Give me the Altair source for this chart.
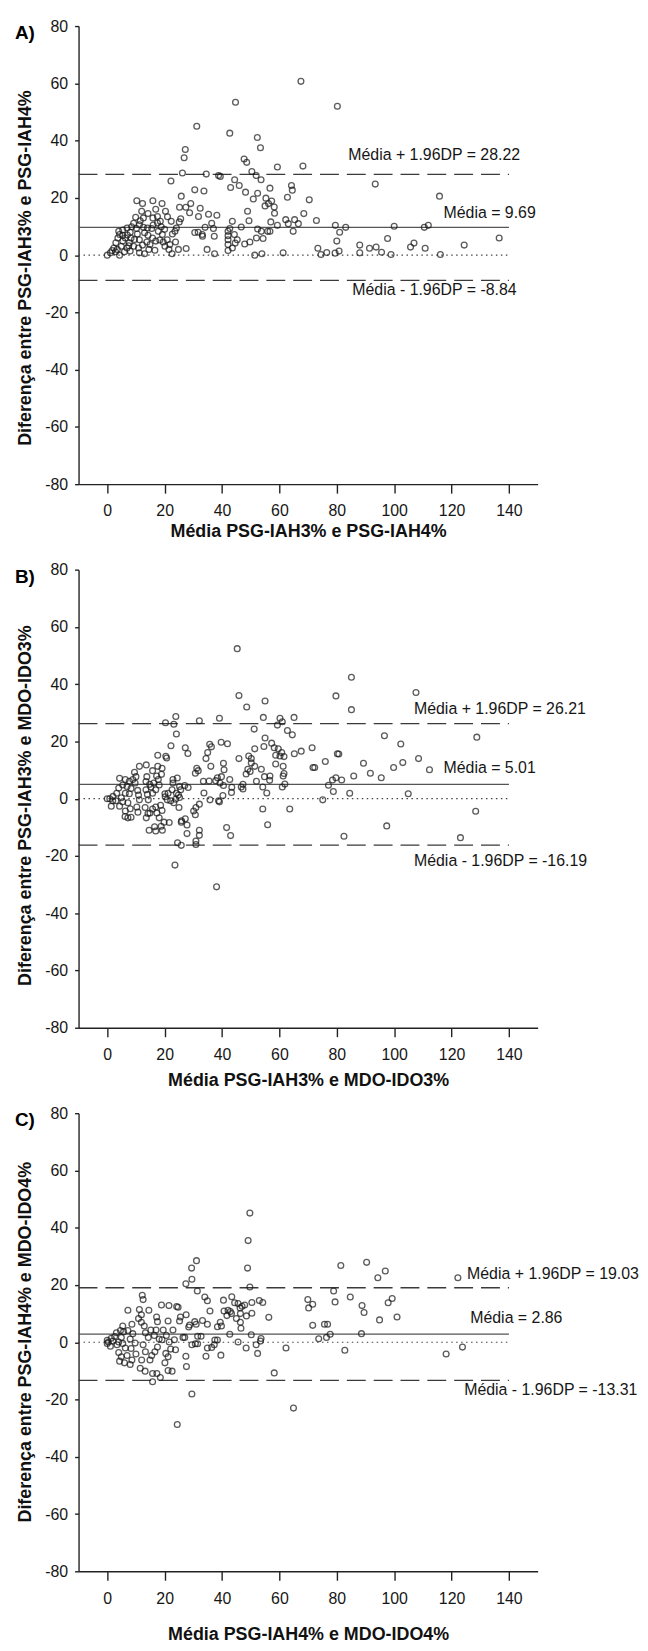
import altair as alt
import pandas as pd

# ---------------- data ----------------
a_x = [67.5, 80.2, 44.7, 31.2, 42.7, 52.3, 53.4, 27.2, 26.8, 47.7, 48.6, 68.2, 59.3, 26.2, 34.5, 38.8, 39.4, 50.4, 51.9, 44.4,
       53.6, 22.2, 46.0, 64.2, 64.5, 43.0, 93.4, 30.5, 33.7, 48.2, 52.4, 56.7, 62.8, 70.4, 115.8, 25.8, 50.9, 55.3, 57.3, 56.2,
       58.2, 55.0, 58.3, 29.1, 27.4, 25.2, 28.7, 32.4, 31.8, 35.3, 38.2, 48.9, 68.5, 72.9, 62.2, 63.1, 66.6, 65.3, 43.6, 49.4,
       36.4, 59.3, 57.0, 79.5, 81.0, 83.1, 100.0, 110.5, 111.9, 136.6, 124.4, 97.7, 88.0, 91.4, 93.7, 95.6, 98.9, 105.7, 106.9, 110.8,
       116.1, 88.0, 80.0, 80.8, 79.4, 76.5, 74.5, 73.4, 61.3, 53.9, 51.4, 52.0, 54.3, 49.7, 47.9, 45.3, 44.3, 44.6, 42.1, 43.6,
       42.1, 42.1, 42.1, 42.1, 42.7, 46.7, 52.4, 53.7, 55.9, 56.7, 64.8, 37.4, 34.8, 37.3, 37.0, 34.1, 33.1, 31.7, 30.5, 33.2,
       27.5, 24.8, 22.6, 25.6, 25.1, 24.1, 23.6, 23.8, 22.7, 20.9, 21.8, 21.5, 20.3, 21.0, 22.3, 19.1, 15.9, 10.3, 12.3, 12.0,
       14.2, 9.9, 12.6, 15.9, 16.9, 17.5, 18.5, 18.8, 19.2, 19.5, 20.1, 16.6, 13.0, 18.3, 17.8, 15.5, 14.0, 12.6, 14.2, 13.8,
       12.3, 14.9, 11.2, 10.5, 10.2, 8.5, 8.0, 8.3, 7.7, 6.9, 8.0, 6.0, 5.4, 5.4, 5.4, 6.9, 4.0, 3.7, 3.0, 2.3,
       2.9, 1.1, 0.0, 4.3, 4.9, 9.2, 10.9, 11.2, 9.2, 16.9, 11.2, 15.8, 1.7, 4.3, 6.3, 7.0, 9.5, 13.0, 16.0, 3.5,
       7.5, 11.5, 14.5, 17.5, 20.0]
a_y = [60.7, 52.0, 53.4, 45.0, 42.6, 41.1, 37.5, 36.9, 34.0, 33.6, 32.4, 31.1, 30.8, 28.7, 28.3, 27.8, 27.5, 29.2, 27.8, 26.3,
       26.3, 25.9, 24.3, 24.3, 22.7, 23.6, 24.8, 22.8, 22.4, 22.0, 21.6, 23.4, 20.2, 19.3, 20.6, 20.6, 19.6, 19.9, 18.9, 18.0,
       16.8, 17.2, 14.6, 18.0, 16.7, 16.7, 14.8, 16.4, 13.5, 14.3, 13.9, 15.3, 14.5, 12.1, 12.4, 11.0, 11.0, 12.4, 11.8, 12.0,
       11.1, 10.4, 11.6, 10.4, 8.0, 9.7, 10.1, 9.7, 10.4, 6.0, 3.5, 5.8, 3.5, 2.4, 2.8, 1.0, 0.2, 2.8, 4.2, 2.4,
       0.2, 0.8, 4.9, 1.4, 0.7, 0.9, 0.2, 2.4, 0.8, 0.5, 0.0, 6.0, 5.8, 4.6, 3.9, 5.4, 7.2, 4.2, 1.6, 2.5,
       3.7, 5.4, 6.8, 8.3, 9.3, 9.8, 9.1, 8.3, 8.3, 8.3, 8.3, 0.5, 2.0, 6.6, 9.3, 9.7, 7.2, 8.0, 7.9, 6.6,
       2.3, 2.0, 0.5, 12.7, 11.6, 9.5, 8.3, 4.6, 7.4, 5.4, 3.7, 2.0, 15.3, 13.4, 11.8, 18.0, 19.0, 19.0, 18.0, 15.3,
       14.5, 13.2, 13.0, 13.0, 16.0, 11.2, 11.8, 9.9, 7.2, 4.6, 3.1, 1.7, 0.5, 5.3, 8.3, 9.3, 9.5, 9.7, 6.9, 4.6,
       3.5, 3.7, 5.4, 7.4, 9.3, 9.9, 8.0, 6.0, 4.3, 2.5, 1.4, 1.2, 4.9, 6.9, 8.8, 9.5, 8.3, 6.0, 4.3, 2.5,
       1.2, 0.8, 0.0, 0.0, 3.1, 3.1, 2.5, 10.6, 11.1, 4.9, 0.8, 6.0, 1.6, 7.2, 6.0, 7.0, 5.5, 7.8, 10.5, 2.0,
       3.3, 12.0, 2.0, 13.5, 9.0]

b_x = [45.3, 85.1, 107.6, 45.9, 79.7, 55.0, 85.1, 48.6, 32.1, 39.1, 23.9, 23.2, 20.3, 24.1, 54.4, 60.2, 61.0, 59.3, 65.1, 62.8,
       64.5, 51.2, 96.6, 128.8, 102.3, 39.7, 41.9, 35.7, 36.3, 35.0, 34.4, 36.1, 22.2, 17.6, 20.4, 20.7, 27.2, 28.1, 55.0, 57.3,
       58.2, 59.6, 60.8, 60.2, 61.6, 58.7, 58.7, 54.6, 51.4, 49.3, 50.2, 50.2, 51.4, 49.0, 48.4, 49.8, 52.0, 53.7, 54.8, 56.7,
       61.3, 61.3, 61.6, 61.9, 61.0, 67.6, 65.2, 71.4, 71.7, 72.3, 76.0, 80.2, 80.7, 89.3, 91.7, 95.5, 99.8, 103.0, 108.5, 112.3,
       85.9, 79.7, 78.5, 81.7, 77.1, 78.8, 84.5, 104.9, 75.1, 63.6, 128.4, 97.4, 82.5, 123.1, 55.9, 55.6, 54.2, 54.2, 56.6, 46.7,
       47.3, 47.3, 43.3, 43.4, 42.7, 39.8, 38.4, 37.8, 39.3, 40.5, 40.7, 40.5, 33.5, 35.5, 33.7, 35.8, 38.8, 39.1, 40.3, 41.6,
       43.0, 38.1, 32.1, 30.9, 30.1, 30.7, 32.1, 32.1, 30.9, 30.9, 30.7, 31.2, 31.7, 28.2, 27.0, 25.2, 25.6, 24.8, 25.2, 25.0,
       25.9, 27.2, 27.8, 25.8, 27.8, 24.5, 25.8, 23.6, 22.9, 24.4, 22.9, 22.6, 21.2, 20.2, 20.9, 20.1, 22.1, 23.2, 23.8, 24.1,
       21.6, 19.8, 18.8, 19.2, 16.9, 16.5, 14.6, 18.1, 19.1, 18.6, 16.9, 15.8, 17.3, 14.9, 13.6, 14.2, 13.2, 14.3, 14.0, 13.5,
       14.8, 13.5, 13.8, 13.6, 15.8, 17.6, 17.2, 17.8, 19.1, 18.9, 18.1, 16.9, 15.8, 16.2, 15.2, 11.2, 10.0, 9.5, 8.9, 9.7,
       10.6, 10.9, 11.2, 10.3, 10.7, 8.3, 7.2, 6.2, 6.3, 8.0, 7.2, 5.4, 4.3, 4.9, 6.3, 7.7, 8.3, 6.9, 5.4, 4.3,
       6.3, 7.7, 4.0, 3.3, 2.0, 0.9, 0.0, 1.9, 1.4, 3.0, 45.9]
b_y = [52.4, 42.4, 37.1, 36.0, 35.9, 34.1, 31.1, 32.0, 27.2, 28.1, 28.7, 26.0, 26.5, 22.6, 28.4, 28.1, 26.9, 25.7, 28.4, 23.8,
       22.3, 24.3, 22.0, 21.5, 19.1, 19.7, 19.2, 19.0, 18.1, 16.1, 14.0, 11.3, 18.5, 15.2, 14.8, 14.2, 17.8, 15.8, 21.2, 19.4,
       17.8, 17.4, 16.1, 14.9, 14.7, 15.2, 12.1, 18.2, 17.4, 14.9, 14.0, 12.5, 11.3, 10.3, 8.6, 9.5, 6.1, 10.3, 7.7, 7.9,
       11.3, 7.9, 8.8, 5.1, 4.1, 16.6, 15.7, 17.8, 10.9, 10.9, 13.0, 15.7, 15.6, 12.4, 8.9, 7.3, 10.9, 12.6, 14.0, 10.1,
       7.9, 7.3, 6.5, 6.5, 4.7, 2.5, 1.9, 1.7, -0.4, -3.6, -4.4, -9.5, -13.1, -13.6, -9.1, 2.0, -3.6, 4.1, 6.4, 4.1,
       3.4, 5.0, 2.2, 4.0, 6.7, 7.7, 7.3, 6.3, 5.5, 4.6, 10.1, 12.4, 6.1, 6.2, 2.0, -0.4, -0.7, -1.1, 1.1, -10.1,
       -12.9, -30.8, -1.9, -3.1, -4.3, -5.6, -11.0, -12.8, -14.8, -16.0, 8.9, 10.6, 9.8, 3.9, 4.6, 4.3, 3.1, 1.3, 0.4, -3.1,
       -7.7, -7.0, -9.2, -8.2, -12.2, -15.4, -16.3, -23.2, 6.7, 7.2, 5.5, 3.1, 1.9, 0.7, -0.4, 1.7, -0.7, -1.4, -0.2, 1.9,
       -8.3, -8.2, -9.6, -11.0, -11.3, -9.8, -11.0, -6.7, -4.1, -2.3, -2.9, -3.6, -5.0, -5.0, -6.7, -5.2, -3.1, -0.4, 1.5, 3.1,
       5.0, 6.0, 7.7, 11.8, 9.8, 11.3, 7.9, 6.7, 10.6, 8.5, 4.8, 3.1, 1.9, 5.5, 4.1, 11.3, 7.7, 9.2, 6.7, 5.5,
       2.9, 1.3, -0.4, -2.9, -4.7, -6.5, -6.7, -6.2, -4.3, -3.5, -1.4, -1.1, -2.6, 0.3, 1.9, 1.7, 3.6, 4.3, 4.8, 7.1,
       6.7, 6.1, 3.7, 1.9, 0.8, 0.0, 0.0, -0.7, -2.6, -0.7, 14.0]

c_x = [49.7, 49.1, 48.9, 49.7, 31.1, 29.4, 29.5, 31.4, 27.4, 81.4, 90.4, 96.9, 94.3, 122.2, 78.9, 84.7, 99.3, 97.9, 69.9, 70.2,
       71.6, 79.4, 88.8, 89.5, 101.0, 94.9, 71.6, 75.7, 76.8, 77.7, 76.4, 73.7, 88.6, 82.8, 62.3, 123.8, 118.1, 58.2, 64.9, 29.5,
       24.4, 56.3, 53.0, 54.2, 50.4, 50.4, 48.5, 50.2, 53.6, 53.4, 51.9, 52.4, 48.4, 45.6, 46.3, 47.0, 47.9, 46.4, 45.0, 46.4,
       46.6, 45.6, 44.4, 43.4, 41.7, 42.9, 43.3, 42.1, 40.7, 40.5, 42.7, 39.4, 38.4, 39.8, 37.5, 38.4, 39.6, 36.4, 37.3, 34.9,
       34.4, 34.9, 35.8, 34.9, 34.0, 33.2, 32.7, 31.5, 30.7, 29.5, 31.5, 30.5, 31.0, 28.7, 28.4, 27.5, 25.5, 25.2, 26.4, 27.0,
       27.6, 27.4, 24.2, 24.7, 22.9, 23.4, 23.8, 22.6, 21.2, 20.1, 20.4, 22.1, 21.2, 21.6, 20.6, 19.5, 19.1, 21.2, 21.5, 18.9,
       18.5, 17.3, 15.8, 15.8, 14.9, 15.5, 16.6, 17.5, 18.1, 16.4, 17.0, 17.5, 17.2, 15.2, 14.5, 12.2, 12.5, 11.2, 11.9, 10.9,
       11.9, 12.9, 13.3, 14.3, 12.5, 13.3, 12.0, 11.5, 13.2, 10.0, 9.7, 8.9, 8.0, 7.2, 7.2, 8.6, 5.4, 5.7, 4.9, 4.0,
       3.4, 4.0, 4.9, 4.3, 6.0, 8.0, 8.6, 6.9, 8.3, 6.3, 5.4, 2.6, 2.0, 1.1, 0.4, 0.0, 0.0, 1.4, 3.2, 4.6]
c_y = [45.1, 35.5, 25.9, 19.3, 28.5, 25.9, 22.0, 17.9, 20.4, 26.8, 27.9, 24.9, 22.5, 22.5, 17.9, 15.8, 15.3, 13.8, 14.9, 12.0,
       13.3, 14.1, 12.8, 10.4, 8.8, 7.8, 5.9, 6.3, 6.3, 2.8, 1.7, 1.2, 3.0, -2.8, -2.0, -1.7, -4.1, -10.7, -23.0, -18.1,
       -28.7, 8.7, 14.6, 13.9, 13.9, 10.1, 9.2, 2.6, 1.3, 0.4, -0.9, -3.9, -2.0, 0.1, 12.0, 12.6, 13.0, 10.0, 8.3, 7.0,
       4.9, 13.5, 13.8, 15.9, 9.3, 10.7, 10.0, 11.2, 10.9, 14.7, 2.8, 7.0, 5.4, 5.7, 0.8, 0.8, -4.5, -1.8, -0.9, -2.0,
       -4.9, 6.3, 10.9, 14.5, 15.8, 7.6, 2.1, 2.1, -0.5, -0.9, -0.5, 7.2, 6.3, 6.0, 5.3, 9.6, 8.8, 7.4, 1.7, 1.7,
       -8.5, -4.9, 12.5, 12.2, 4.3, 0.9, -2.6, -10.1, -9.9, -7.2, -3.9, -2.4, -5.1, 0.1, 2.4, 4.3, 0.9, 7.4, 12.8, 13.0,
       -12.3, -10.9, -13.8, -10.9, -6.2, -4.6, -3.3, -1.7, 1.1, 2.4, 4.3, 7.2, 8.8, 4.3, 11.2, 16.4, 14.9, 11.4, 9.6, 8.3,
       7.0, 5.7, 3.3, 1.7, -0.9, -3.3, -6.2, -9.1, -10.1, -4.1, -0.3, 3.0, 1.1, 4.1, 11.2, 6.3, 5.7, 3.7, 1.7, 0.1,
       -0.9, -3.6, -5.1, -6.6, -7.2, -7.8, -6.2, -4.6, -2.2, -2.0, -0.4, 2.0, 0.4, -1.4, 0.1, 0.7, -0.4, 1.4, 3.3, 4.1]

# limits of agreement: upper, mean, lower
a_limits = [28.22, 9.69, -8.84]
b_limits = [26.21, 5.01, -16.19]
c_limits = [19.03, 2.86, -13.31]

letters = ["A)", "B)", "C)"]
x_titles = ["Média PSG-IAH3% e PSG-IAH4%", "Média PSG-IAH3% e MDO-IDO3%", "Média PSG-IAH4% e MDO-IDO4%"]
y_titles = ["Diferença entre PSG-IAH3% e PSG-IAH4%", "Diferença entre PSG-IAH3% e MDO-IDO3%",
            "Diferença entre PSG-IAH4% e MDO-IDO4%"]

a_labels = ["Média + 1.96DP = 28.22", "Média = 9.69", "Média - 1.96DP = -8.84"]
b_labels = ["Média + 1.96DP = 26.21", "Média = 5.01", "Média - 1.96DP = -16.19"]
c_labels = ["Média + 1.96DP = 19.03", "Média = 2.86", "Média - 1.96DP = -13.31"]
# label anchor positions (data units: left edge x, vertical centre y)
a_lab_x = [84.0, 117.2, 85.4]
a_lab_y = [34.9, 14.6, -12.3]
b_lab_x = [106.9, 117.2, 106.9]
b_lab_y = [31.4, 10.6, -21.7]
c_lab_x = [125.4, 126.5, 124.4]
c_lab_y = [24.0, 8.3, -16.8]

x_ticks = [0, 20, 40, 60, 80, 100, 120, 140]
y_ticks = [-80, -60, -40, -20, 0, 20, 40, 60, 80]
x_domain = [-10, 150]
y_domain = [-80, 80]
line_x = [-10, 140]

FONT = "Liberation Sans"
INK = "#161616"
LINE = "#3a3a3a"


def panel(i, xs, ys, limits, labels, lab_x, lab_y, ytitle_pos, xtitle_pos):
    xscale = alt.Scale(domain=x_domain, nice=False, zero=False)
    yscale = alt.Scale(domain=y_domain, nice=False, zero=False)
    xaxis = alt.Axis(values=x_ticks, title=x_titles[i], titleY=xtitle_pos, titleBaseline="middle",
                     labelFlush=False, labelExpr="'' + datum.value")
    yaxis = alt.Axis(values=y_ticks, title=y_titles[i], titleX=-53, titleY=ytitle_pos, titleAngle=-90,
                     titleBaseline="middle", labelFlush=False, labelExpr="'' + datum.value")

    def X(f="x"):
        return alt.X(f + ":Q", scale=xscale, axis=xaxis)

    def Y(f="y"):
        return alt.Y(f + ":Q", scale=yscale, axis=yaxis)

    pts = pd.DataFrame({"x": xs, "y": ys})
    points = alt.Chart(pts).mark_point(shape="circle", filled=False, color=INK, size=34,
                                       strokeWidth=1.3).encode(x=X(), y=Y())

    def rule(yv, dash, width=1.3, color=LINE):
        df = pd.DataFrame({"x": [line_x[0]], "x2": [line_x[1]], "y": [yv]})
        kw = dict(color=color, strokeWidth=width)
        if dash:
            kw["strokeDash"] = dash
        return alt.Chart(df).mark_rule(**kw).encode(x=X(), x2="x2:Q", y=Y())

    upper = rule(limits[0], [19, 8])
    mean = rule(limits[1], None, 1.3, "#555555")
    lower = rule(limits[2], [19, 8])
    zero = rule(0, [1.5, 3.5], 1.2, "#444444")

    lab = pd.DataFrame({"x": lab_x, "y": lab_y, "t": labels})
    texts = alt.Chart(lab).mark_text(align="left", baseline="middle", font=FONT, fontSize=16,
                                     color=INK).encode(x=X(), y=Y(), text="t:N")

    let = pd.DataFrame({"t": [letters[i]]})
    letter = alt.Chart(let).mark_text(align="left", baseline="alphabetic", font=FONT, fontSize=19,
                                      fontWeight="bold", color="#000000").encode(
        x=alt.value(-64), y=alt.value(13), text="t:N")

    return alt.layer(zero, upper, lower, mean, points, texts, letter).properties(width=462, height=461)


pa = panel(0, a_x, a_y, a_limits, a_labels, a_lab_x, a_lab_y, 243, 48)
pb = panel(1, b_x, b_y, b_limits, b_labels, b_lab_x, b_lab_y, 237, 53)
pc = panel(2, c_x, c_y, c_limits, c_labels, c_lab_x, c_lab_y, 230, 64)

chart = alt.vconcat(pa, pb, pc, spacing=86, bounds="flush").properties(
    padding={"left": 7, "top": 5, "right": 0, "bottom": 0}
).configure(font=FONT).configure_view(strokeWidth=0).configure_axis(
    grid=False, domainColor="#222222", tickColor="#222222", domainWidth=1.4, tickWidth=1.4,
    labelFont=FONT, labelFontSize=16, labelColor=INK,
    titleFont=FONT, titleFontSize=18, titleFontWeight="bold", titleColor="#111111"
).configure_axisX(tickSize=9, labelPadding=10).configure_axisY(tickSize=4, labelPadding=7)

chart.save("out.html", embed_options={"renderer": "svg", "actions": False})
